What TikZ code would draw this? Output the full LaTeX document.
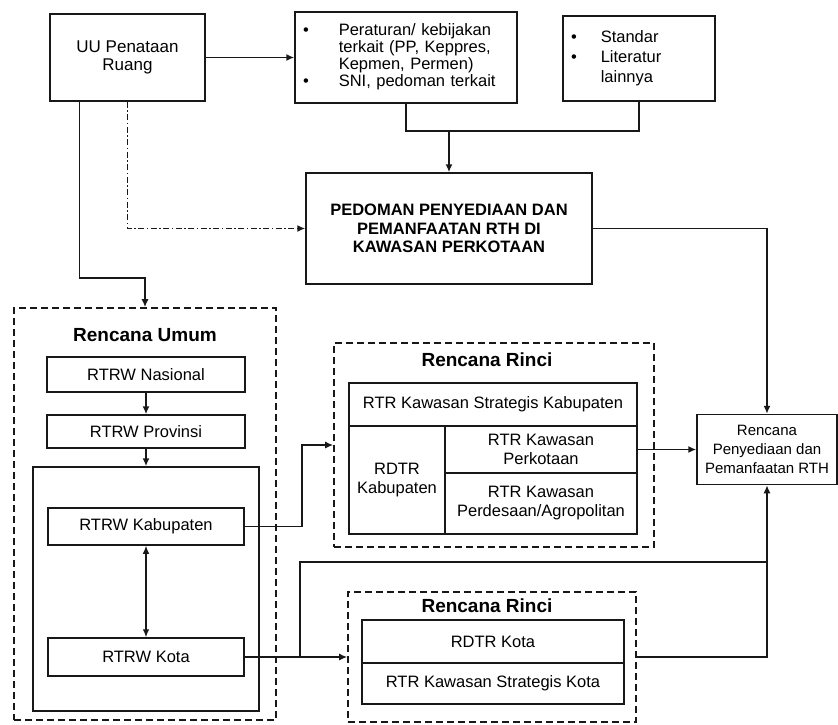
\documentclass[tikz,border=0pt]{standalone}
\usepackage{fontspec}
\setmainfont{Liberation Sans}
\usetikzlibrary{arrows.meta,positioning,calc}
\definecolor{inkdark}{RGB}{24,24,24}

\begin{document}
\begin{tikzpicture}[x=1pt,y=-1pt,font=\fontsize{16.5}{19}\selectfont,
 box/.style={draw=inkdark,line width=1.5pt,align=center,inner sep=2pt},
 grp/.style={draw=inkdark,line width=1.6pt,dash pattern=on 7pt off 4pt},
 head/.style={font=\fontsize{19}{22}\selectfont\bfseries},
 ln/.style={line width=1.5pt,draw=inkdark},
 arr/.style={-{Latex[length=8pt,width=7pt]},line width=1.5pt,draw=inkdark},
 dbl/.style={{Latex[length=8pt,width=6.5pt]}-{Latex[length=8pt,width=6.5pt]},line width=1.1pt,draw=inkdark}]
\useasboundingbox (0,0) rectangle (838,724);
\node[box,minimum width=155pt,minimum height=87pt,font=\fontsize{17}{18}\selectfont] (uu) at (127.5,57.5) {UU Penataan\\Ruang};
\node[box,minimum width=222pt,minimum height=91pt,text width=206pt,inner sep=8pt,align=left,font=\fontsize{16.5}{16.5}\selectfont] (atur) at (406,57.5)
 {\begin{tabular}{@{}l@{\hspace{30pt}}l@{}}\textbullet & Peraturan/ kebijakan\\ & terkait (PP, Keppres,\\ & Kepmen, Permen)\\ \textbullet & SNI, pedoman terkait\end{tabular}};
\node[box,minimum width=152pt,minimum height=85pt,text width=136pt,inner sep=8pt,align=left,font=\fontsize{16.5}{20}\selectfont] (standar) at (639,58.5)
 {\begin{tabular}{@{}l@{\hspace{24pt}}l@{}}\textbullet & Standar\\ \textbullet & Literatur\\ & lainnya\end{tabular}};
\node[box,minimum width=286pt,minimum height=111pt,font=\fontsize{16.5}{18.5}\selectfont\bfseries] (pedoman) at (449,228.5) {PEDOMAN PENYEDIAAN DAN\\PEMANFAATAN RTH DI\\KAWASAN PERKOTAAN};
\node[grp,minimum width=262pt,minimum height=412pt] (umum) at (145,514) {};
\node[head] (umumtitle) at (145,335) {Rencana Umum};
\node[box,minimum width=198pt,minimum height=35pt] (nasional) at (146,374.5) {RTRW Nasional};
\node[box,minimum width=198pt,minimum height=33pt] (provinsi) at (146,431.5) {RTRW Provinsi};
\node[box,minimum width=226pt,minimum height=244pt] (daerah) at (146,589) {};
\node[box,minimum width=196pt,minimum height=37pt] (kab) at (146,526.5) {RTRW Kabupaten};
\node[box,minimum width=196pt,minimum height=38pt] (kota) at (146,657) {RTRW Kota};
\node[grp,minimum width=320pt,minimum height=204pt] (rinci1) at (494,445) {};
\node[head] (rincititle1) at (487,360) {Rencana Rinci};
\node[box,minimum width=288pt,minimum height=43pt] (strategis) at (493,404.5) {RTR Kawasan Strategis Kabupaten};
\node[box,minimum width=96pt,minimum height=108pt] (rdtrkab) at (397,480) {RDTR\\Kabupaten};
\node[box,minimum width=192pt,minimum height=47pt] (perkotaan) at (541,449.5) {RTR Kawasan\\Perkotaan};
\node[box,minimum width=192pt,minimum height=61pt] (perdesaan) at (541,503.5) {RTR Kawasan\\Perdesaan/Agropolitan};
\node[grp,minimum width=288pt,minimum height=130pt] (rinci2) at (492,657) {};
\node[head] (rincititle2) at (487,606) {Rencana Rinci};
\node[box,minimum width=262pt,minimum height=43pt] (rdtrkota) at (493,641.5) {RDTR Kota};
\node[box,minimum width=262pt,minimum height=41pt] (strakota) at (493,683.5) {RTR Kawasan Strategis Kota};
\node[box,minimum width=140pt,minimum height=70pt,font=\fontsize{15}{19}\selectfont] (rencana) at (767,449.5) {Rencana\\Penyediaan dan\\Pemanfaatan RTH};
\draw[arr] (uu) -- (atur);
\coordinate (join) at (pedoman.north |- 0,131);
\draw[ln] (atur.south) |- (join) -| (standar.south);
\draw[arr] (join) -- (pedoman);
\coordinate (turn) at (umum.north |- 0,278);
\draw[arr] ([xshift=30pt]uu.south west) |- (turn) -- (umum.north);
\draw[arr,dash pattern=on 6pt off 2.5pt on 1.5pt off 2.5pt] (uu.south) |- (pedoman.west);
\draw[arr] (pedoman.east) -| (rencana.north);
\foreach \a/\b in {nasional/provinsi,provinsi/daerah} \draw[arr] (\a)--(\b);
\draw[dbl] (kab) -- (kota);
\draw[arr] (kab.east) -- ++(57,0) |- (rinci1.west);
\draw[arr] (perkotaan.east) -- (rencana.west);
\draw[arr] (kota.east) -- (kota.east -| rinci2.west);
\coordinate (split) at ($(kota.east)+(55,0)$);
\coordinate (meet) at (rencana.south |- 0,562);
\draw[ln] (split) |- (meet);
\draw[arr] (rinci2.east) -| (rencana.south);
\end{tikzpicture}
\end{document}
